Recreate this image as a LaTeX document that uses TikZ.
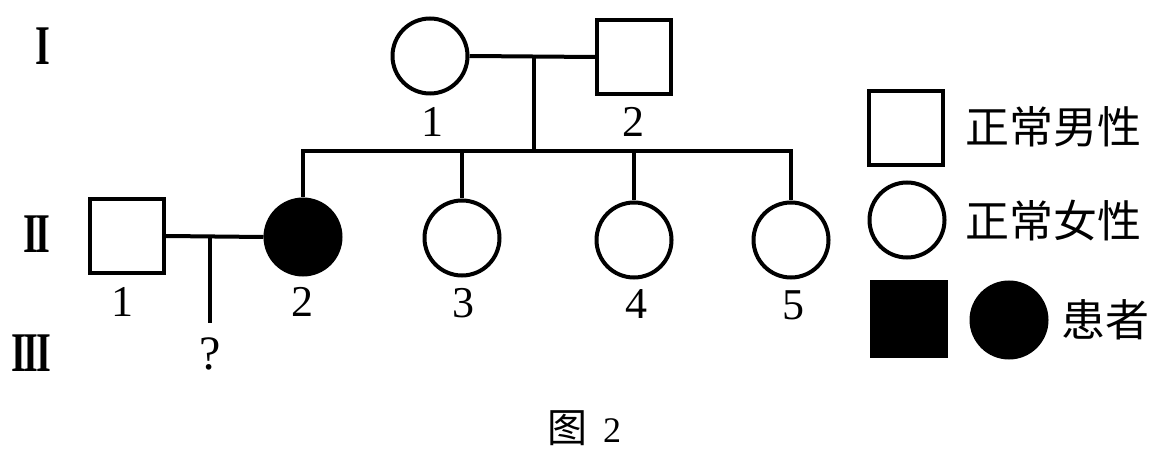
\documentclass[tikz,border=0pt]{standalone}
\usepackage{fontspec}
\setmainfont{Liberation Serif}
\newfontfamily\cjk{Noto Sans CJK SC}
\usetikzlibrary{positioning}

\tikzset{
  male/.style={draw, rectangle, line width=2pt, minimum width=37pt, minimum height=37pt, inner sep=0pt},
  female/.style={draw, circle, line width=2pt, minimum size=37.5pt, inner sep=0pt},
  ill/.style={fill=black},
  num/.style={font=\fontsize{22}{22}\selectfont, inner sep=0pt},
  gen/.style={font=\bfseries\fontsize{28}{28}\selectfont, inner sep=0pt},
  legtext/.style={font=\cjk\fontsize{22}{22}\selectfont, anchor=west, inner sep=0pt},
  link/.style={line width=2pt},
}
\newcommand{\gennum}[1]{\scalebox{0.68}[1]{#1}}

\begin{document}
\begin{tikzpicture}[x=0.5pt,y=-0.5pt]
  \useasboundingbox (0,0) rectangle (1155,454);
  % Generations
  \node[gen] (g1) at (43,46) {\gennum{I}};
  \node[gen] (g2) at (37,234) {\gennum{I\kern-.06em I}};
  \node[gen] (g3) at (31,353) {\gennum{I\kern-.06em I\kern-.06em I}};
  % Generation I
  \node[female] (i1) at (430,56) {};
  \node[male] (i2) at (634,57) {};
  \node[num] (l-i1) at (432,122) {1};
  \node[num] (l-i2) at (633,122) {2};
  \coordinate (m1) at (534,56);
  \coordinate (s1) at (534,151);
  \draw[link] (i1.east) -- (i2.west);
  \draw[link] (m1) -- (s1);
  % Generation II
  \node[male] (ii1) at (127,236) {};
  \node[female, ill] (ii2) at (303,237) {};
  \node[female] (ii3) at (462,238) {};
  \node[female] (ii4) at (634,240) {};
  \node[female] (ii5) at (791,240) {};
  \node[num] (l-ii1) at (122,302) {1};
  \node[num] (l-ii2) at (302,302) {2};
  \node[num] (l-ii3) at (463,303) {3};
  \node[num] (l-ii4) at (636,304) {4};
  \node[num] (l-ii5) at (793,305) {5};
  % Sibship line
  \draw[link] (ii2.north) |- (s1) -| (ii5.north);
  \draw[link] (ii3.north) -- (ii3.north |- s1);
  \draw[link] (ii4.north) -- (ii4.north |- s1);
  % Marriage II
  \coordinate (m2) at (210,236);
  \coordinate (c3) at (210,323);
  \draw[link] (ii1.east) -- (ii2.west);
  \draw[link] (m2) -- (c3);
  \node[num, font=\fontsize{24}{24}\selectfont] (q) at (210,354) {?};
  % Legend
  \node[male] (lm) at (906,128) {};
  \node[legtext] (tm) at (965,127) {正常男性};
  \node[female] (lf) at (907,220) {};
  \node[legtext] (tf) at (965,221) {正常女性};
  \node[male, ill] (lpm) at (909,319) {};
  \node[female, ill] (lpf) at (1009,320) {};
  \node[legtext] (tp) at (1061,320) {患者};
  % Caption
  \node (cap) at (584,428) {{\cjk\fontsize{20}{20}\selectfont 图}\hspace{8pt}{\fontsize{18}{18}\selectfont 2}};
\end{tikzpicture}
\end{document}
